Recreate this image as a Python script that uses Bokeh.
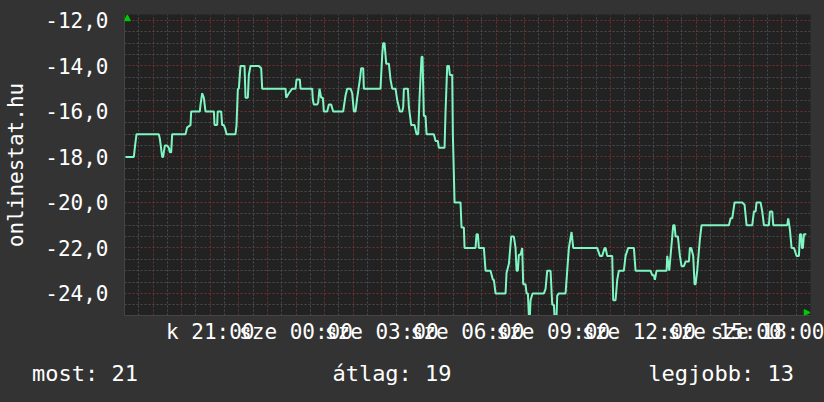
from bokeh.plotting import figure
from bokeh.models import Range1d, FixedTicker, Arrow, NormalHead, Div
from bokeh.layouts import column
from bokeh.embed import file_html
from bokeh.resources import INLINE

# hours since 18:00 (previous day) and rank value (negative = position)
time_h = [0.035, 0.327, 0.37, 0.42, 1.20, 1.236, 1.318, 1.353, 1.411, 1.493, 1.551, 1.586, 1.633, 1.668,
          2.134, 2.193, 2.309, 2.333, 2.636, 2.659, 2.718, 2.776, 2.834, 3.126, 3.15, 3.242, 3.26, 3.382,
          3.417, 3.476, 3.534, 3.569, 3.884, 3.919, 3.966, 4.0, 4.059, 4.199, 4.234, 4.315, 4.350, 4.409,
          4.700, 4.782, 4.817, 5.633, 5.657, 5.750, 5.867, 5.983, 6.018, 6.135, 6.158, 6.566, 6.590, 6.625,
          6.741, 6.776, 6.823, 6.881, 6.940, 6.975, 7.091, 7.150, 7.231, 7.301, 7.651, 7.733, 7.791, 7.908,
          7.966, 8.024, 8.083, 8.141, 8.234, 8.281, 8.351, 8.374, 8.957, 9.016, 9.051, 9.097, 9.156, 9.249,
          9.307, 9.366, 9.482, 9.541, 9.634, 9.716, 9.751, 9.774, 9.914, 9.949, 10.030, 10.147, 10.217,
          10.275, 10.322, 10.392, 10.427, 10.473, 10.532, 10.567, 10.823, 10.882, 10.963, 10.998, 11.057,
          11.197, 11.232, 11.290, 11.349, 11.383, 11.465, 11.488, 11.547, 11.756, 11.791, 11.873, 11.897,
          12.281, 12.316, 12.363, 12.398, 12.573, 12.631, 12.806, 12.888, 12.923, 12.981, 13.331, 13.366,
          13.448, 13.529, 13.622, 13.681, 13.716, 13.762, 13.797, 13.856, 13.914, 13.949, 14.031, 14.066,
          14.113, 14.147, 14.182, 14.206, 14.276, 14.672, 14.731, 14.789, 14.906, 14.964, 15.022, 15.045,
          15.115, 15.139, 15.197, 15.430, 15.489, 15.547, 15.640, 15.699, 16.538, 16.632, 16.713, 16.795,
          16.830, 16.888, 17.063, 17.098, 17.180, 17.238, 17.297, 17.471, 17.530, 17.623, 17.821, 17.880,
          18.404, 18.463, 18.521, 18.556, 18.614, 18.964, 18.988, 19.058, 19.198, 19.244, 19.279, 19.361,
          19.431, 19.489, 19.571, 19.629, 19.746, 19.781, 19.827, 19.897, 19.944, 19.979, 20.037, 20.131,
          20.189, 21.145, 21.204, 21.262, 21.344, 21.612, 21.693, 21.763, 21.962, 22.020, 22.078, 22.113,
          22.253, 22.312, 22.370, 22.545, 22.580, 22.662, 22.697, 23.186, 23.221, 23.280, 23.338, 23.420,
          23.513, 23.595, 23.630, 23.677, 23.700, 23.735, 23.770, 23.852]
rank = [-18, -18, -17.5, -17, -17, -17.2, -18, -18, -17.5, -17.5, -17.6, -17.8, -17.8, -17,
        -17, -16.7, -16.6, -16, -16, -15.7, -15.2, -15.4, -16, -16, -16.6, -16.6, -16, -16,
        -16.6, -16.6, -16.8, -17, -17, -16.6, -15, -15, -14, -14, -15.4, -15.4, -14.4, -14,
        -14, -14.1, -15, -15, -15.4, -15.2, -15, -15, -14.6, -14.6, -15, -15, -15.5, -15.7,
        -15.7, -15.6, -15, -15.4, -15.4, -16, -16, -15.7, -15.7, -16, -16, -15.3, -15, -15,
        -15.2, -16, -16, -15.4, -14.6, -14.1, -14.1, -15, -15, -13.5, -13, -13, -13.9, -13.9,
        -14.6, -15, -15, -15.5, -16, -16, -15.8, -15, -15, -15.8, -16.6, -16.6, -17,
        -17, -15.4, -13.6, -13.6, -16.2, -16.2, -17, -17, -17.3, -17.3, -17.6, -17.6,
        -17.6, -16, -14, -14, -14.4, -14.4, -17, -20, -20, -21.1, -21.1, -22,
        -22, -21.4, -21.4, -22, -22, -23, -23, -23.4, -23.4, -24, -24, -23.1,
        -22.7, -21.5, -21.5, -22, -23, -23, -22.3, -22.3, -22, -23.6, -23.6, -24,
        -24, -25, -25, -24.3, -24, -24, -23.8, -23, -23, -24.5, -24.5, -25,
        -25, -24.1, -24, -24, -23, -22, -21.3, -22, -22, -22.35, -22.35, -22,
        -22, -22.35, -22.35, -24.3, -24.3, -23.4, -23, -23, -22.35, -22, -22, -23,
        -23, -23.2, -23.2, -23.4, -23, -23, -22.35, -23, -21, -21, -21.5, -21.5,
        -22.35, -22.8, -22.8, -22.6, -22.6, -22, -22, -22.35, -23.6, -23.6, -23, -21.6,
        -21, -21, -20.7, -20.7, -20, -20, -20.1, -21, -21, -20.4, -20.4, -20,
        -20, -20.4, -21, -21, -20.4, -20.4, -21, -21, -20.7, -21.2, -22, -22,
        -22.35, -22.35, -21.4, -21.4, -22, -22, -21.4, -21.4]

x_ticks = [3, 6, 9, 12, 15, 18, 21, 24]
x_labels = ["k 21:00", "sze 00:00", "sze 03:00", "sze 06:00", "sze 09:00",
            "sze 12:00", "sze 15:00", "sze 18:00"]
y_ticks = [-24, -22, -20, -18, -16, -14, -12]
y_labels = ["-24,0", "-22,0", "-20,0", "-18,0", "-16,0", "-14,0", "-12,0"]
hour_grid = list(range(0, 25))
half_grid = [h + 0.5 for h in range(0, 24)]
y_minor = [v / 2 for v in range(-50, -22) if v % 4 != 0]

footer_left = "most: 21"
footer_mid = "átlag: 19"
footer_right = "legjobb: 13"
axis_title = "onlinestat.hu"

FONT = "DejaVu Sans Mono"
TXT = "#ffffff"

p = figure(width=824, height=350, x_range=Range1d(0, 24), y_range=Range1d(-24.97, -11.74),
           output_backend="svg", toolbar_location=None,
           min_border_left=124, min_border_right=14, min_border_top=14, min_border_bottom=35,
           background_fill_color="#222222", border_fill_color="#333333", outline_line_color=None)

# grids
p.xgrid.ticker = FixedTicker(ticks=hour_grid, minor_ticks=half_grid)
p.ygrid.ticker = FixedTicker(ticks=y_ticks, minor_ticks=y_minor)
for g in (p.xgrid, p.ygrid):
    g.grid_line_color = "#743030"
    g.grid_line_dash = "2 2"
    g.grid_line_width = 1
    g.minor_grid_line_color = "#4c4c4c"
    g.minor_grid_line_dash = "2 2"
    g.minor_grid_line_width = 1

# axes
p.xaxis.ticker = FixedTicker(ticks=x_ticks)
p.xaxis.major_label_overrides = dict(zip(x_ticks, x_labels))
p.yaxis.ticker = FixedTicker(ticks=y_ticks)
p.yaxis.major_label_overrides = dict(zip(y_ticks, y_labels))
for ax in (p.xaxis, p.yaxis):
    ax.major_tick_out = 0
    ax.major_tick_in = 0
    ax.minor_tick_out = 0
    ax.minor_tick_in = 0
    ax.axis_line_color = "#444444"
    ax.major_label_text_color = TXT
    ax.major_label_text_font = FONT
    ax.major_label_text_font_size = "21px"
p.xaxis.major_label_standoff = 4
p.yaxis.major_label_standoff = 16
p.yaxis.axis_label = axis_title
p.yaxis.axis_label_text_font = FONT
p.yaxis.axis_label_text_font_size = "21px"
p.yaxis.axis_label_text_line_height = 0.9
p.yaxis.axis_label_text_font_style = "normal"
p.yaxis.axis_label_text_color = TXT
p.yaxis.axis_label_standoff = 14

p.line(time_h, rank, line_color="#7ff5c2", line_width=2)

# axis arrows (kept just inside the plot frame)
p.add_layout(Arrow(end=NormalHead(size=6, fill_color="#00cc00", line_color="#00cc00"),
                   x_start=0.1, y_start=-12.0, x_end=0.1, y_end=-11.75, line_alpha=0))
p.add_layout(Arrow(end=NormalHead(size=6, fill_color="#00cc00", line_color="#00cc00"),
                   x_start=23.7, y_start=-24.84, x_end=23.99, y_end=-24.84, line_alpha=0))

span = "position:absolute;top:11px;line-height:26px;white-space:pre;"
footer_html = (
    f'<div style="position:relative;width:824px;height:52px;background:#333333;'
    f'color:{TXT};font-family:\'{FONT}\';font-size:22px;">'
    f'<span style="{span}left:32px;">{footer_left}</span>'
    f'<span style="{span}left:392px;transform:translateX(-50%);">{footer_mid}</span>'
    f'<span style="{span}right:30px;">{footer_right}</span>'
    f'</div>'
)
footer = Div(text=footer_html, width=824, height=52, margin=0,
             styles={"background-color": "#333333"})

layout = column(p, footer, spacing=0, styles={"background-color": "#333333"})

html = file_html(layout, INLINE)
html = html.replace("<body>", '<body style="background-color:#333333;">', 1)
open("out.html", "w").write(html)
